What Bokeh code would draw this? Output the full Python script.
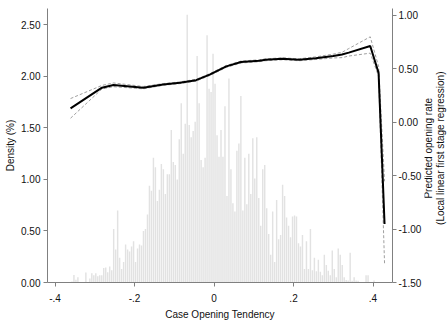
import math
import numpy as np
from bokeh.plotting import figure
from bokeh.layouts import row
from bokeh.models import Range1d, LinearAxis, FixedTicker, NumeralTickFormatter, ColumnDataSource
from bokeh.core.properties import value
from bokeh.embed import file_html
from bokeh.resources import INLINE

# ---- histogram of case opening tendency (density, %) ----
bin_start = -0.36
bin_width = 0.005
density = [
    0.01, 0.074, 0.026, 0.05, 0, 0, 0, 0.096, 0, 0.04, 0.09, 0.07, 0.09, 0.06, 0.07, 0.07,
    0.14, 0.145, 0.10, 0.155, 0.12, 0.52, 0.32, 0.70, 0.24, 0.13, 0.20, 0.37, 0.32, 0.30,
    0.35, 0.40, 0.20, 0.33, 0.37,
    0.36, 0.50, 0.52, 0.66, 0.94, 0.89, 1.21, 1.12, 0.79, 0.90, 1.15, 1.10, 0.86, 1.05,
    1.05, 1.48, 1.17, 1.14, 1.00, 1.39, 1.74, 1.25, 1.54, 2.60, 1.53, 1.41, 1.47, 1.56,
    2.20, 1.74, 1.19, 1.12, 1.21, 2.40, 1.88, 1.85, 2.22, 1.93, 1.43,
    1.22, 1.48, 1.22, 1.71, 0.84, 1.98, 1.10, 0.77, 0.69, 1.28, 1.35, 1.81, 0.70, 1.21,
    0.76, 1.25, 0.86, 1.40, 1.01, 1.41, 0.82, 0.55, 1.10, 1.14, 0.72, 0.47, 0.27, 0.69,
    0.20, 0.80, 0.42, 0.46, 0.95, 0.84, 0.63, 0.55, 0.44, 0.64, 0.65,
    0.64, 0.38, 0.35, 0.46, 0.13, 0.40, 0.13, 0.52, 0.12, 0.24, 0.11, 0.22, 0.105, 0.07,
    0.27, 0.17, 0.115, 0.07, 0.31, 0.13, 0.05, 0.33, 0.27, 0.17, 0.05, 0.025, 0.02, 0.29,
    0.016, 0.05, 0.02, 0.016, 0, 0, 0, 0.07, 0.07, 0, 0, 0.02,
]

# ---- local linear first stage fit with confidence band ----
fit_x = [-0.361, -0.282, -0.253, -0.178, -0.128, -0.086, -0.045, -0.011, 0.031, 0.068,
         0.114, 0.130, 0.172, 0.214, 0.256, 0.300, 0.322, 0.339, 0.393, 0.414, 0.429]
fit_y = [0.130, 0.324, 0.348, 0.324, 0.354, 0.370, 0.394, 0.446, 0.523, 0.564,
         0.576, 0.585, 0.594, 0.585, 0.600, 0.620, 0.635, 0.652, 0.714, 0.462, -0.953]
ci_upper = [0.222, 0.345, 0.368, 0.335, 0.362, 0.378, 0.402, 0.455, 0.532, 0.573,
            0.585, 0.594, 0.603, 0.594, 0.612, 0.638, 0.655, 0.690, 0.800, 0.523, -0.553]
ci_lower = [0.038, 0.312, 0.333, 0.313, 0.346, 0.362, 0.386, 0.437, 0.514, 0.555,
            0.567, 0.576, 0.585, 0.576, 0.588, 0.602, 0.605, 0.620, 0.647, 0.431, -1.322]

x_ticks = [-0.4, -0.2, 0.0, 0.2, 0.4]
x_tick_labels = ["-.4", "-.2", "0", ".2", ".4"]
left_ticks = [0.0, 0.5, 1.0, 1.5, 2.0, 2.5]
right_ticks = [-1.5, -1.0, -0.5, 0.0, 0.5, 1.0]
right_title = "Predicted opening rate\n(Local linear first stage regression)"

FONT = "Liberation Sans"
AXIS_COL = "#808080"
TXT_COL = "#111111"

centers = bin_start + bin_width * (np.arange(len(density)) + 0.5)
hist_src = ColumnDataSource(dict(x=centers, top=density))
fit_src = ColumnDataSource(dict(x=fit_x, y=fit_y, up=ci_upper, lo=ci_lower))

p = figure(width=424, height=322, output_backend="svg", toolbar_location=None,
           x_range=Range1d(-0.419, 0.449), y_range=Range1d(0, 2.66),
           min_border_left=47, min_border_right=31, min_border_top=8, min_border_bottom=36)
p.extra_y_ranges = {"fit": Range1d(-1.5, 1.065)}
p.outline_line_color = None
p.xgrid.visible = False
p.ygrid.visible = False

p.vbar(x="x", top="top", width=bin_width * 0.72, bottom=0, source=hist_src,
       fill_color="#e2e2e2", line_color=None)

p.line("x", "up", source=fit_src, y_range_name="fit", line_color="#a0a0a0",
       line_width=1, line_dash="3 2")
p.line("x", "lo", source=fit_src, y_range_name="fit", line_color="#a0a0a0",
       line_width=1, line_dash="3 2")
p.line("x", "y", source=fit_src, y_range_name="fit", line_color="black", line_width=2)

def style(ax, label_standoff=3, title_standoff=4):
    ax.axis_line_color = AXIS_COL
    ax.major_tick_line_color = AXIS_COL
    ax.minor_tick_line_color = None
    ax.major_tick_out = 4
    ax.major_tick_in = 0
    ax.major_label_standoff = label_standoff
    ax.major_label_text_font = FONT
    ax.major_label_text_font_size = "10px"
    ax.major_label_text_color = TXT_COL
    ax.axis_label_text_font = FONT
    ax.axis_label_text_font_size = "10px"
    ax.axis_label_text_font_style = "normal"
    ax.axis_label_text_color = TXT_COL
    ax.axis_label_standoff = title_standoff

xa = p.xaxis[0]
xa.ticker = FixedTicker(ticks=x_ticks)
xa.major_label_overrides = {t: l for t, l in zip(x_ticks, x_tick_labels)}
xa.axis_label = "Case Opening Tendency"
style(xa, label_standoff=7, title_standoff=4)

ya = p.yaxis[0]
ya.ticker = FixedTicker(ticks=left_ticks)
ya.formatter = NumeralTickFormatter(format="0.00")
ya.axis_label = "Density (%)"
style(ya, label_standoff=3, title_standoff=2)

ra = LinearAxis(y_range_name="fit", ticker=FixedTicker(ticks=right_ticks),
                formatter=NumeralTickFormatter(format="0.00"))
style(ra, label_standoff=2)
p.add_layout(ra, "right")

# narrow companion panel carrying the right-hand title (reads bottom to top)
q = figure(width=23, height=322, output_backend="svg", toolbar_location=None,
           x_range=Range1d(0, 1), y_range=Range1d(0, 1),
           min_border_left=0, min_border_right=0, min_border_top=0, min_border_bottom=0)
q.axis.visible = False
q.grid.visible = False
q.outline_line_color = None
q.text(x=[0.42], y=[0.49], text=[right_title], angle=math.pi / 2,
       text_align="center", text_baseline="middle", text_font=value(FONT),
       text_font_size="10px", text_color=TXT_COL, text_line_height=1.1)

layout = row(p, q, spacing=0)
open("out.html", "w").write(file_html(layout, INLINE))
